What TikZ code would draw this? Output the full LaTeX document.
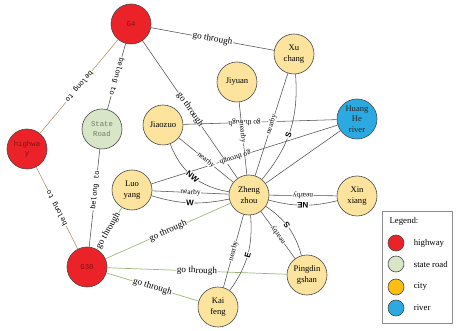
\documentclass[tikz,border=0pt]{standalone}
\usepackage{fontspec}
\setmainfont{Liberation Serif}
\newfontfamily\monofont{Liberation Mono}
\newfontfamily\dirfont{Liberation Sans}
\usepackage{tikz}
\usetikzlibrary{positioning, arrows.meta}
\definecolor{hwFill}{HTML}{EC2229}
\definecolor{hwInk}{HTML}{7A1414}
\definecolor{srFill}{HTML}{D9E5C7}
\definecolor{srInk}{HTML}{6E7C62}
\definecolor{cityFill}{HTML}{FCE49E}
\definecolor{cityKey}{HTML}{FDBE12}
\definecolor{rvFill}{HTML}{2BAAE2}
\definecolor{nBorder}{HTML}{4A4A4A}
\definecolor{eGray}{HTML}{4F4F4F}
\definecolor{eBrown}{HTML}{B09A6C}
\definecolor{eGreen}{HTML}{9DB677}

\tikzset{
  base/.style={circle, draw=nBorder, line width=0.6pt, minimum size=40pt, inner sep=0pt, align=center},
  hwy/.style={base, fill=hwFill, text=hwInk, font=\monofont\fontsize{7.3}{9}\selectfont},
  road/.style={base, fill=srFill, text=srInk, font=\monofont\fontsize{7.3}{10}\selectfont},
  city/.style={base, fill=cityFill, font=\fontsize{8.6}{10.5}\selectfont},
  river/.style={base, fill=rvFill, text=black!85, font=\fontsize{8.6}{10.5}\selectfont},
  rel/.style={draw=eGray, line width=0.55pt},
  relB/.style={draw=eBrown, line width=0.6pt},
  relG/.style={draw=eGreen, line width=0.7pt},
  lbl/.style={sloped, allow upside down, fill=white, inner sep=0.6pt},
  gothr/.style={lbl, font=\fontsize{9.2}{10}\selectfont},
  nearlbl/.style={lbl, font=\fontsize{7.4}{8}\selectfont},
  belonglbl/.style={lbl, font=\monofont\fontsize{7.2}{8}\selectfont},
  dirlbl/.style={lbl, font=\dirfont\bfseries\fontsize{8}{9}\selectfont},
  keydot/.style={circle, draw=nBorder, line width=0.6pt, minimum size=16pt, inner sep=0pt},
  keytext/.style={anchor=west, font=\fontsize{8.8}{10}\selectfont}
}

\begin{document}
\begin{tikzpicture}[x=1pt, y=-1pt]
  \useasboundingbox (0,0) rectangle (458,331);

  % nodes
  \node[hwy] (g4) at (131,24) {G4};
  \node[hwy] (hw) at (27,149) {highwa\\y};
  \node[hwy] (g30) at (87,267) {G30};
  \node[road] (sr) at (102,129) {State\\Road};
  \node[city] (xc) at (294,54) {Xu\\chang};
  \node[city] (jy) at (237,82) {Jiyuan};
  \node[river] (hh) at (357,119) {Huang\\He\\river};
  \node[city] (jz) at (163,125) {Jiaozuo};
  \node[city] (ly) at (132,190) {Luo\\yang};
  \node[city] (zz) at (249,195) {Zheng\\zhou};
  \node[city] (xx) at (357,196) {Xin\\xiang};
  \node[city] (pd) at (307,275) {Pingdin\\gshan};
  \node[city] (kf) at (218,307) {Kai\\feng};

  % belong to
  \path[relB] (g4) -- node[belonglbl] {belong to} (hw);
  \path[relB] (g30) -- node[belonglbl] {belong to} (hw);
  \path[rel] (g4) -- node[belonglbl] {belong to} (sr);
  \path[rel] (g30) -- node[belonglbl, pos=0.58] {belong to} (sr);

  % go through
  \path[rel] (g4) -- node[gothr] {go through} (xc);
  \path[rel] (g4) -- node[gothr] {go through} (zz);
  \path[relG] (g30) -- node[gothr, pos=0.45] {go through} (ly);
  \path[relG] (g30) -- node[gothr] {go through} (zz);
  \path[relG] (g30) -- node[gothr] {go through} (pd);
  \path[relG] (g30) -- node[gothr] {go through} (kf);
  \path[rel] (hh) -- node[nearlbl, pos=0.6] {go through} (jz);
  \path[rel] (hh) -- node[nearlbl, pos=0.55] {go through} (ly);
  \path[rel] (hh) -- (zz);

  % nearby and direction
  \path[rel] (jy) -- node[nearlbl, pos=0.42] {nearby} (zz);
  \path[rel] (zz) -- node[nearlbl] {nearby} (xc);
  \path[rel] (zz) to[bend right=22] node[dirlbl, pos=0.45] {S} (xc);
  \path[rel] (jz) -- node[nearlbl] {nearby} (zz);
  \path[rel] (jz) to[bend right=30] node[dirlbl] {NW} (zz);
  \path[rel] (ly) -- node[nearlbl] {nearby} (zz);
  \path[rel] (ly) to[bend right=14] node[dirlbl] {W} (zz);
  \path[rel] (xx) -- node[nearlbl] {nearby} (zz);
  \path[rel] (xx) to[bend left=14] node[dirlbl] {NE} (zz);
  \path[rel] (pd) -- node[nearlbl] {nearby} (zz);
  \path[rel] (pd) to[bend right=20] node[dirlbl, pos=0.55] {S} (zz);
  \path[rel] (kf) -- node[nearlbl] {nearby} (zz);
  \path[rel] (kf) to[bend right=20] node[dirlbl] {E} (zz);

  % legend
  \node[draw=black!45, line width=0.6pt, fill=white, minimum width=70pt, minimum height=112pt, anchor=north west] (key) at (382,211) {};
  \node[keytext] (keyhead) at (386,221) {Legend:};
  \node[keydot, fill=hwFill] (k1) at (396,243) {};
  \node[keydot, fill=srFill] (k2) at (396,264) {};
  \node[keydot, fill=cityKey] (k3) at (396,287) {};
  \node[keydot, fill=rvFill] (k4) at (396,308) {};
  \node[keytext, right=6pt of k1] {highway};
  \node[keytext, right=6pt of k2] {state road};
  \node[keytext, right=6pt of k3] {city};
  \node[keytext, right=6pt of k4] {river};
\end{tikzpicture}
\end{document}
